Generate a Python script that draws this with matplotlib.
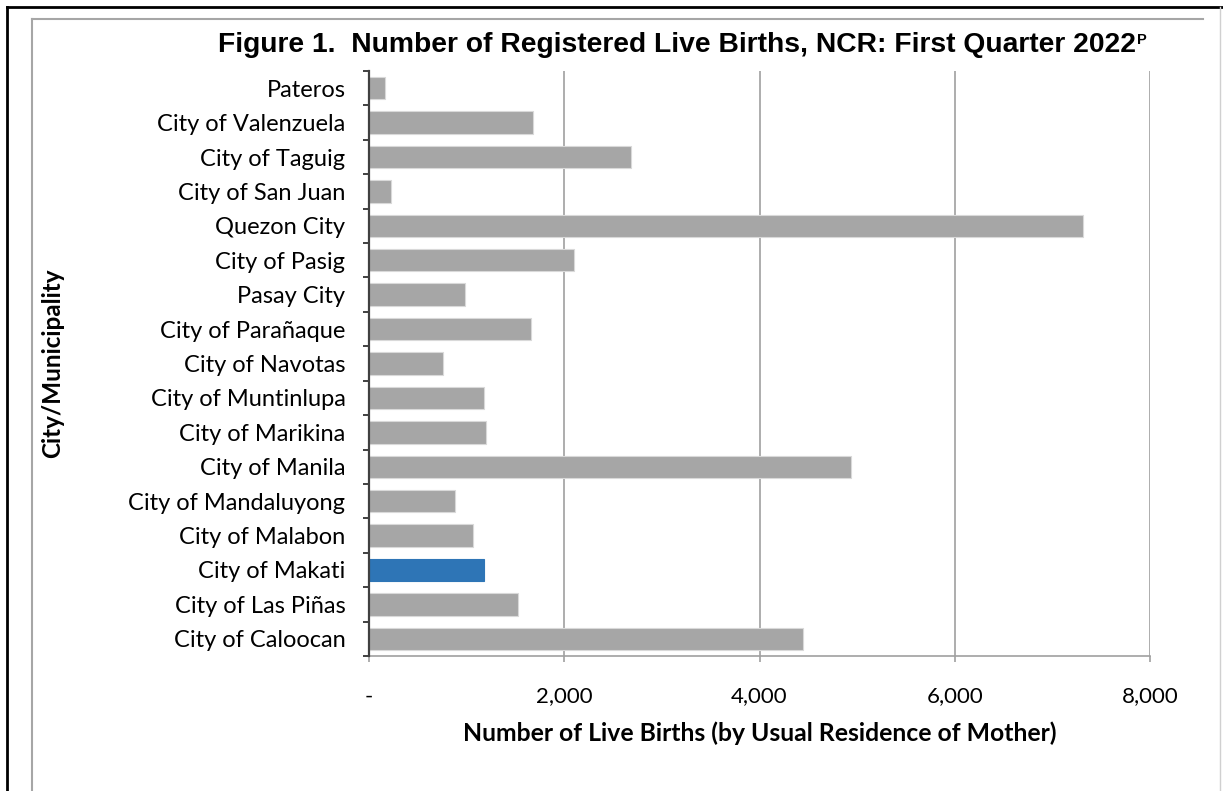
import matplotlib.pyplot as plt
from matplotlib.lines import Line2D
from matplotlib.ticker import FuncFormatter

# Data (bottom to top, as drawn)
cities = [
    "City of Caloocan", "City of Las Piñas", "City of Makati", "City of Malabon",
    "City of Mandaluyong", "City of Manila", "City of Marikina", "City of Muntinlupa",
    "City of Navotas", "City of Parañaque", "Pasay City", "City of Pasig",
    "Quezon City", "City of San Juan", "City of Taguig", "City of Valenzuela", "Pateros",
]
births = [4447, 1530, 1178, 1066, 885, 4935, 1202, 1178, 758, 1657, 987, 2100,
          7318, 222, 2684, 1675, 164]
highlight = "City of Makati"

W, H = 1223, 791
fig = plt.figure(figsize=(W / 100, H / 100), dpi=100)
ax = fig.add_axes([369 / W, 1 - 656 / H, 781 / W, 585 / H])

colors = ["#2e75b6" if c == highlight else "#a6a6a6" for c in cities]
edges = ["#2e75b6" if c == highlight else "#d9d9d9" for c in cities]
ypos = range(len(cities))
ax.barh(ypos, births, height=0.65, color=colors, edgecolor=edges, linewidth=0.8, zorder=3)

ax.set_xlim(0, 8000)
ax.set_ylim(-0.5, len(cities) - 0.5)
ax.set_xticks([0, 2000, 4000, 6000, 8000])
ax.xaxis.set_major_formatter(FuncFormatter(lambda v, p: "-" if v == 0 else f"{int(v):,}"))
ax.set_yticks(list(ypos))
ax.set_yticklabels(cities)
ax.set_yticks([i - 0.5 for i in range(len(cities) + 1)], minor=True)

ax.grid(axis="x", color="#a0a0a0", linewidth=1.2, zorder=0)
for s in ["top", "right"]:
    ax.spines[s].set_visible(False)
ax.spines["left"].set_color("#404040")
ax.spines["left"].set_linewidth(1.6)
ax.spines["left"].set_zorder(4)
ax.spines["bottom"].set_color("#a0a0a0")
ax.spines["bottom"].set_linewidth(1.2)

tick_font = "Lato"
ax.tick_params(axis="y", which="major", length=0, pad=17, labelsize=17)
ax.tick_params(axis="y", which="minor", length=4, width=1.4, color="#404040", direction="out")
ax.tick_params(axis="x", length=4, width=1.2, color="#a0a0a0", pad=18, labelsize=16)
for lab in ax.get_xticklabels() + ax.get_yticklabels():
    lab.set_family(tick_font)

ax.set_xlabel("Number of Live Births (by Usual Residence of Mother)", family=tick_font,
              fontsize=17.8, fontweight="bold", labelpad=11)
fig.text(53 / W, 1 - 363 / H, "City/Municipality", family=tick_font, fontsize=17.5,
         fontweight="bold", rotation=90, ha="center", va="center")

title = fig.text(218 / W, 1 - 52 / H,
                 "Figure 1.  Number of Registered Live Births, NCR: First Quarter 2022",
                 family="Liberation Sans", fontweight="bold", fontsize=20.3, ha="left",
                 va="baseline")
ax.annotate("P", xy=(1, 1), xycoords=title, xytext=(1, -1), textcoords="offset points",
            family="Liberation Sans", fontweight="bold", fontsize=10.5, ha="left", va="top")

# frames around the chart
def fline(xs, ys, color, lw):
    fig.add_artist(Line2D([x / W for x in xs], [1 - y / H for y in ys],
                          transform=fig.transFigure, color=color, linewidth=lw))

fline([7, 7], [7, H], "black", 2.0)
fline([7, W], [7, 7], "black", 2.0)
fline([32, 32], [19, H], "#a6a6a6", 1.5)
fline([32, 1203], [19, 19], "#a6a6a6", 1.5)
fline([1220, 1220], [7, H], "#d0d0d0", 1.0)

fig.savefig("out.png", dpi=100)
